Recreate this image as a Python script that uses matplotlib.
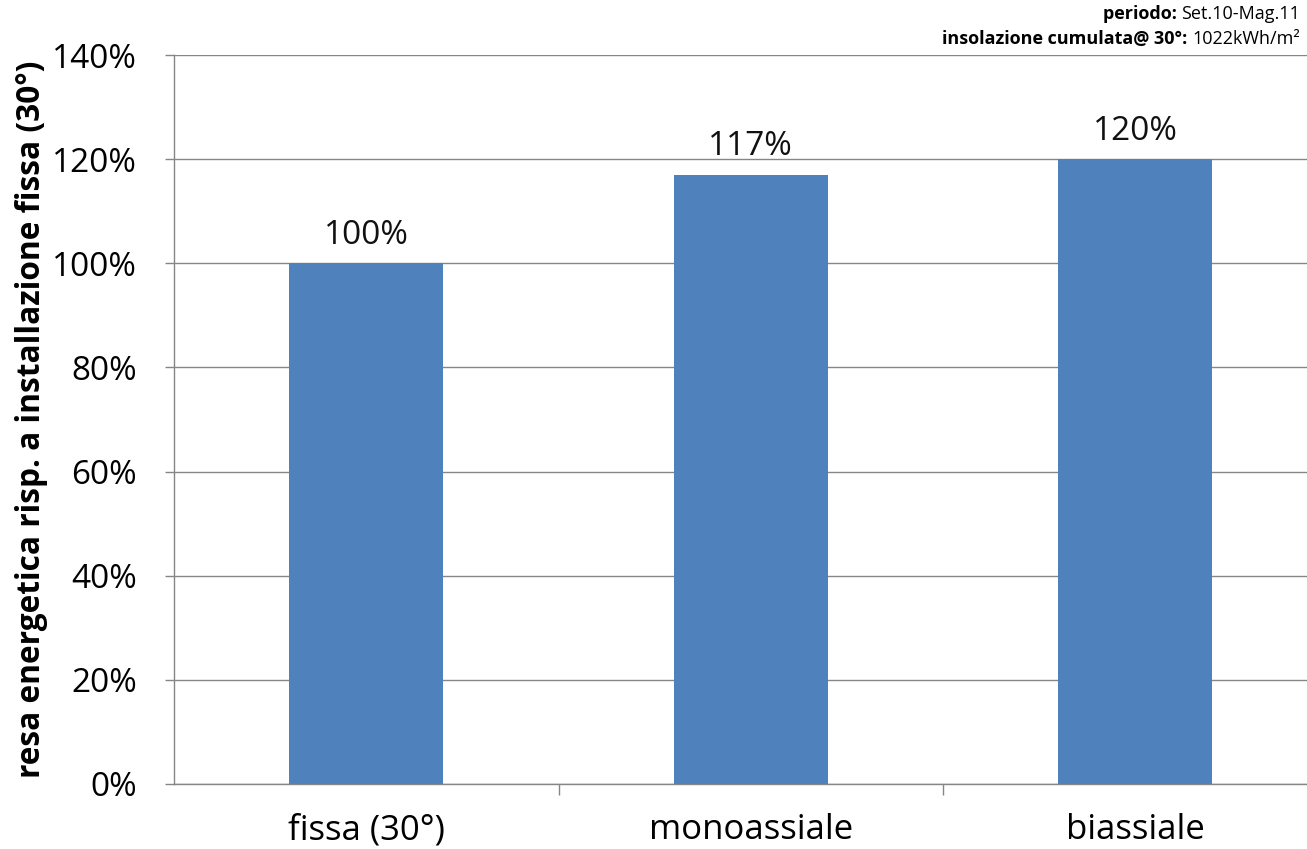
import matplotlib
matplotlib.use("Agg")
import matplotlib.pyplot as plt
from matplotlib.ticker import FuncFormatter

plt.rcParams['font.family'] = ['Open Sans', 'DejaVu Sans']

# dati
categorie = ["fissa (30°)", "monoassiale", "biassiale"]
resa = [1.00, 1.17, 1.20]
etichette = ["100%", "117%", "120%"]
tick_y = [0.0, 0.2, 0.4, 0.6, 0.8, 1.0, 1.2, 1.4]

blu = "#4F81BD"
grigio = "#868686"

fig = plt.figure(figsize=(13.07, 8.49), dpi=100)
# l'asse continua oltre il bordo destro della figura
ax = fig.add_axes([174 / 1307, 1 - 784 / 849, 1153.5 / 1307, (784 - 55) / 849])

x = list(range(len(categorie)))
ax.bar(x, resa, width=0.4, color=blu, zorder=3)
for xi, v, lab in zip(x, resa, etichette):
    ax.text(xi, v + 0.022, lab, ha='center', va='bottom', fontsize=24, color='#111111')

ax.set_xlim(-0.5, len(categorie) - 0.5)
ax.set_ylim(0, 1.4)
ax.set_yticks(tick_y)
ax.yaxis.set_major_formatter(FuncFormatter(lambda v, p: f"{v * 100:.0f}%"))
ax.grid(axis='y', color=grigio, linewidth=1, zorder=0)

# tacche dell'asse x ai confini delle categorie
ax.set_xticks([i + 0.5 for i in x[:-1]])
ax.set_xticks(x, minor=True)
ax.set_xticklabels([])
ax.set_xticklabels(categorie, minor=True)
ax.tick_params(axis='x', which='major', length=8, color=grigio, width=1)
ax.tick_params(axis='x', which='minor', length=0, labelsize=25, pad=21)
ax.tick_params(axis='y', length=6.5, color=grigio, width=1, labelsize=24, pad=20)

for s in ['top', 'right']:
    ax.spines[s].set_visible(False)
for s in ['left', 'bottom']:
    ax.spines[s].set_color(grigio)
    ax.spines[s].set_linewidth(1)

ax.set_ylabel("resa energetica risp. a installazione fissa (30°)",
              fontsize=22.8, fontweight='bold', labelpad=3)

# intestazione in alto a destra
r1 = fig.text(1300 / 1307, 1 - 14 / 849, "Set.10-Mag.11", ha='right', va='center', fontsize=13)
ax.annotate("periodo: ", xy=(0, 0.5), xycoords=r1, ha='right', va='center',
            fontsize=13, fontweight='bold', annotation_clip=False)
r2 = fig.text(1300 / 1307, 1 - 39 / 849, "1022kWh/m²", ha='right', va='center', fontsize=13)
ax.annotate("insolazione cumulata@ 30°: ", xy=(0, 0.5), xycoords=r2, ha='right', va='center',
            fontsize=13, fontweight='bold', annotation_clip=False)

fig.savefig("out.png", dpi=100)
